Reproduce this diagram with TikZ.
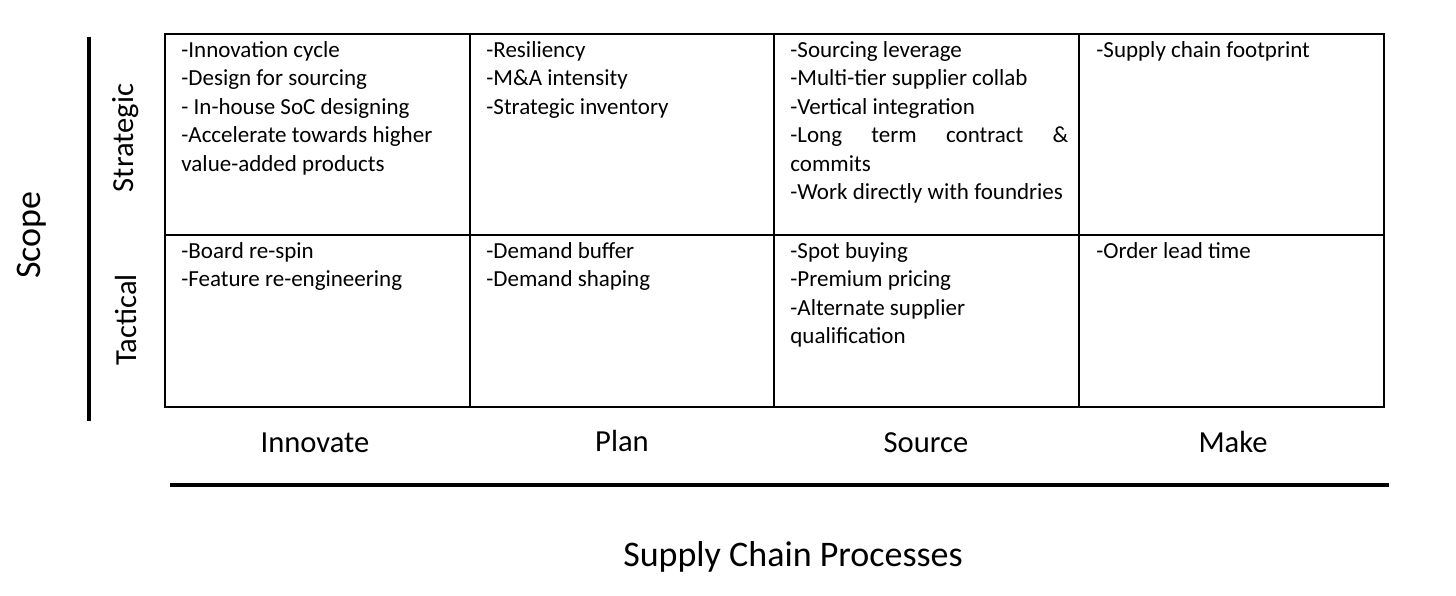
\documentclass[tikz,border=0pt]{standalone}
\usepackage{fontspec}
\setmainfont{Carlito}
\begin{document}
\begin{tikzpicture}[x=0.5pt,y=-0.5pt,
	cell/.style={anchor=north west,inner sep=0pt,align=left,font=\fontsize{11.5}{14.25}\selectfont},
	level/.style={rotate=90,inner sep=0pt,font=\fontsize{15.3}{18}\selectfont},
	proc/.style={anchor=base,inner sep=0pt,font=\fontsize{15.3}{18}\selectfont},
	title/.style={inner sep=0pt,font=\fontsize{18}{21}\selectfont},
	tbl/.style={line width=0.75pt},
	axis/.style={line width=1.6pt}]
		\useasboundingbox (0,0) rectangle (1456,595);
		% table
		\draw[tbl] (165,34) rectangle (1384,407);
		\draw[tbl] (165,235) -- (1384,235);
		\foreach \x in {470,774,1079} \draw[tbl] (\x,34) -- (\x,407);
		% strategic row
		\node[cell] (si) at (181,41) {-Innovation cycle\\-Design for sourcing\\- In-house SoC designing\\-Accelerate towards higher\\value-added products};
		\node[cell] (sp) at (486,41) {-Resiliency\\-M\&A intensity\\-Strategic inventory};
		\node[cell] (ss) at (790,41) {-Sourcing leverage\\-Multi-tier supplier collab\\-Vertical integration\\\makebox[139pt][s]{-Long term contract \&}\\commits\\-Work directly with foundries};
		\node[cell] (sm) at (1096,41) {-Supply chain footprint};
		% tactical row
		\node[cell] (ti) at (181,242) {-Board re-spin\\-Feature re-engineering};
		\node[cell] (tp) at (486,242) {-Demand buffer\\-Demand shaping};
		\node[cell] (ts) at (790,242) {-Spot buying\\-Premium pricing\\-Alternate supplier\\qualification};
		\node[cell] (tm) at (1096,242) {-Order lead time};
		% axes
		\node[level] (strat) at (126,138) {Strategic};
		\node[level] (tact) at (126,320) {Tactical};
		\node[level,font=\fontsize{18}{21}\selectfont] (scope) at (32,235) {Scope};
		\draw[axis] (89,37) -- (89,421);
		\node[proc] (inn) at (315,452) {Innovate};
		\node[proc] (plan) at (622,451) {Plan};
		\node[proc] (src) at (926,452) {Source};
		\node[proc] (make) at (1233,452) {Make};
		\draw[axis] (170,485) -- (1389,485);
		\node[title,anchor=base] (scp) at (793,566) {Supply Chain Processes};
	\end{tikzpicture}
\end{document}
